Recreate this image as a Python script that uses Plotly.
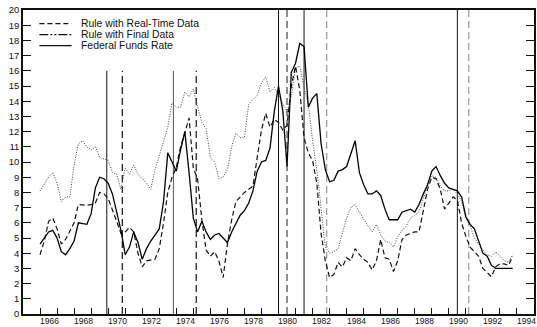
import plotly.graph_objects as go

# ---------------- data (quarterly, 1966Q1 - 1993Q4) ----------------
start_year = 1966
n_years = 28
quarters = [start_year + q / 4 for q in range(n_years * 4)]

fed_funds = [
    4.6, 5.0, 5.4, 5.5,    # 1966
    5.0, 4.1, 3.9, 4.3,    # 1967
    4.8, 6.0, 5.95, 5.9,   # 1968
    6.6, 8.3, 9.0, 8.9,    # 1969
    8.6, 7.9, 6.7, 5.5,    # 1970
    3.9, 4.4, 5.4, 4.7,    # 1971
    3.6, 4.3, 4.8, 5.2,    # 1972
    5.6, 7.4, 10.6, 10.0,  # 1973
    9.4, 10.8, 12.0, 9.3,  # 1974
    6.3, 5.4, 6.1, 5.4,    # 1975
    4.9, 5.2, 5.3, 5.0,    # 1976
    4.7, 5.4, 6.0, 6.5,    # 1977
    6.8, 7.3, 8.1, 9.4,    # 1978
    10.0, 10.1, 10.9, 13.3,  # 1979
    15.0, 13.4, 9.7, 15.9,   # 1980
    16.5, 17.8, 17.6, 13.6,  # 1981
    14.2, 14.5, 11.2, 9.5,   # 1982
    8.7, 8.8, 9.4, 9.5,    # 1983
    9.7, 10.5, 11.4, 9.3,  # 1984
    8.5, 7.9, 7.9, 8.1,    # 1985
    7.8, 6.9, 6.2, 6.2,    # 1986
    6.2, 6.7, 6.8, 6.9,    # 1987
    6.7, 7.2, 7.9, 8.5,    # 1988
    9.4, 9.7, 9.1, 8.6,    # 1989
    8.3, 8.2, 8.1, 7.7,    # 1990
    6.4, 5.9, 5.6, 4.8,    # 1991
    4.0, 3.8, 3.2, 3.0,    # 1992
    3.0, 3.0, 3.0, 3.0,    # 1993
]

rule_real_time = [
    3.9, 4.8, 6.1, 6.3,    # 1966
    5.6, 4.6, 4.9, 5.4,    # 1967
    6.0, 7.2, 7.15, 7.15,  # 1968
    7.2, 7.3, 8.0, 7.9,    # 1969
    7.6, 6.9, 6.1, 5.3,    # 1970
    5.4, 5.7, 5.4, 4.0,    # 1971
    3.1, 3.5, 3.55, 3.6,   # 1972
    4.3, 6.0, 8.0, 9.0,    # 1973
    9.65, 11.0, 11.9, 12.9,  # 1974
    9.6, 8.9, 6.2, 4.2,    # 1975
    3.8, 4.1, 3.5, 2.4,    # 1976
    4.6, 6.2, 7.4, 7.7,    # 1977
    8.0, 8.2, 8.4, 10.3,   # 1978
    12.1, 13.2, 12.3, 12.8,  # 1979
    12.6, 12.1, 12.4, 15.0,  # 1980
    16.3, 14.7, 11.6, 10.6,  # 1981
    10.1, 8.6, 5.3, 3.5,   # 1982
    2.4, 2.6, 3.4, 3.1,    # 1983
    3.7, 3.5, 4.3, 3.9,    # 1984
    3.6, 3.4, 2.9, 3.5,    # 1985
    4.9, 3.7, 3.6, 2.8,    # 1986
    3.5, 4.9, 5.2, 5.3,    # 1987
    5.4, 5.4, 6.8, 8.2,    # 1988
    9.0, 8.9, 8.2, 6.9,    # 1989
    7.3, 7.7, 7.5, 6.0,    # 1990
    5.1, 4.4, 4.1, 3.8,    # 1991
    3.0, 2.7, 2.45, 3.1,   # 1992
    3.3, 3.3, 3.2, 3.8,    # 1993
]

rule_final = [
    8.1, 8.6, 9.0, 9.3,    # 1966
    8.6, 7.4, 7.7, 7.7,    # 1967
    9.8, 11.2, 11.4, 11.0,  # 1968
    10.8, 11.0, 10.3, 10.2,  # 1969
    10.1, 9.3, 9.2, 8.2,   # 1970
    9.6, 9.2, 9.8, 9.2,    # 1971
    8.9, 8.6, 8.2, 9.5,    # 1972
    10.4, 11.3, 12.3, 13.9,  # 1973
    13.6, 13.6, 14.6, 14.3,  # 1974
    14.8, 13.6, 12.6, 12.2,  # 1975
    10.3, 10.0, 8.9, 9.0,  # 1976
    9.5, 11.0, 11.9, 11.6,  # 1977
    11.6, 13.8, 14.1, 14.4,  # 1978
    15.2, 15.6, 14.6, 14.9,  # 1979
    14.4, 13.8, 13.3, 14.3,  # 1980
    16.2, 16.3, 14.9, 13.8,  # 1981
    11.4, 9.5, 7.0, 4.4,   # 1982
    4.0, 4.1, 4.3, 5.3,    # 1983
    6.3, 7.0, 7.2, 6.7,    # 1984
    6.2, 5.8, 5.4, 5.9,    # 1985
    5.2, 4.8, 4.7, 4.4,    # 1986
    5.1, 5.5, 5.8, 6.3,    # 1987
    6.5, 6.7, 7.6, 8.5,    # 1988
    9.1, 9.0, 8.4, 8.1,    # 1989
    8.1, 8.2, 7.9, 7.4,    # 1990
    6.3, 5.8, 5.0, 4.6,    # 1991
    4.2, 3.9, 3.8, 4.1,    # 1992
    3.8, 3.5, 3.4, 3.9,    # 1993
]

# NBER business-cycle peaks (solid) and troughs (dashed), with line tops
peak_dates = [1969.92, 1973.83, 1980.0, 1981.5, 1990.5]
peak_tops = [16, 16, 20, 20, 20]
trough_dates = [1970.83, 1975.17, 1980.5, 1982.83, 1991.17]
trough_tops = [16, 16, 20, 20, 20]

tick_years = list(range(1966, 1995))
label_years = list(range(1966, 1995, 2))

legend_names = ["Rule with Real-Time Data", "Rule with Final Data", "Federal Funds Rate"]

# ---------------- styles ----------------
peak_colors = ["#111", "#555", "#111", "#111", "#111"]
trough_colors = ["#111", "#111", "#444", "#999", "#999"]
FONT = "Liberation Sans, Arial, sans-serif"
LABEL_OFFSET = 0.55  # year labels sit inside each year's interval

fig = go.Figure()

for d, top, c in zip(peak_dates, peak_tops, peak_colors):
    fig.add_trace(go.Scatter(x=[d, d], y=[0, top], mode="lines",
                             line=dict(color=c, width=1), hoverinfo="skip",
                             showlegend=False))
for d, top, c in zip(trough_dates, trough_tops, trough_colors):
    fig.add_trace(go.Scatter(x=[d, d], y=[0, top], mode="lines",
                             line=dict(color=c, width=1.2, dash="7px,4px"),
                             hoverinfo="skip", showlegend=False))

fig.add_trace(go.Scatter(x=quarters, y=rule_final, mode="lines", name=legend_names[1],
                         line=dict(color="#444", width=1, dash="1px,1.5px"),
                         showlegend=False))
fig.add_trace(go.Scatter(x=quarters, y=rule_real_time, mode="lines", name=legend_names[0],
                         line=dict(color="#111", width=1.2, dash="5px,3px"),
                         showlegend=False))
fig.add_trace(go.Scatter(x=quarters, y=fed_funds, mode="lines", name=legend_names[2],
                         line=dict(color="#000", width=1.3), showlegend=False))

# manual compact legend
legend_dashes = ["5px,3px", "9px,2px,2px,2px,2px,2px", "solid"]
legend_y = [0.955, 0.919, 0.883]
shapes = []
annotations = []
for name, dash, yy in zip(legend_names, legend_dashes, legend_y):
    shapes.append(dict(type="line", xref="paper", yref="paper",
                       x0=0.032, x1=0.095, y0=yy, y1=yy,
                       line=dict(color="#111", width=1.3, dash=dash)))
    annotations.append(dict(xref="paper", yref="paper", x=0.111, y=yy,
                            text=name, showarrow=False, xanchor="left",
                            yanchor="middle", borderpad=0,
                            font=dict(family=FONT, size=10.4, color="#111")))

# year labels placed just under the axis, centred within each labelled year
for yr in label_years:
    annotations.append(dict(xref="x", yref="paper", x=yr + LABEL_OFFSET, y=0,
                            text=str(yr), showarrow=False, xanchor="center",
                            yanchor="top", yshift=-1, borderpad=0,
                            font=dict(family=FONT, size=8.5, color="#111")))

fig.update_layout(
    width=537, height=327,
    margin=dict(l=23, r=1, t=10, b=13),
    paper_bgcolor="white", plot_bgcolor="white",
    shapes=shapes, annotations=annotations,
    font=dict(family=FONT, color="#111"),
)
fig.update_xaxes(range=[1965, 1995], tickmode="array", tickvals=tick_years,
                 showticklabels=False, ticks="inside", ticklen=6, tickwidth=1.2,
                 tickcolor="#111", showline=True, linecolor="#111", linewidth=1.5,
                 mirror=True, showgrid=False, zeroline=False)
fig.update_yaxes(range=[0, 20], dtick=1, tick0=0, ticks="inside", ticklen=8,
                 tickwidth=1.2, tickcolor="#111", showline=True, linecolor="#111",
                 linewidth=1.5, mirror="allticks", showgrid=False, zeroline=False,
                 tickfont=dict(family=FONT, size=9.5))

fig.write_html(
    "out.html",
    config={"displayModeBar": False},
    post_script="document.body.style.margin='0';document.body.style.overflow='hidden';",
)
